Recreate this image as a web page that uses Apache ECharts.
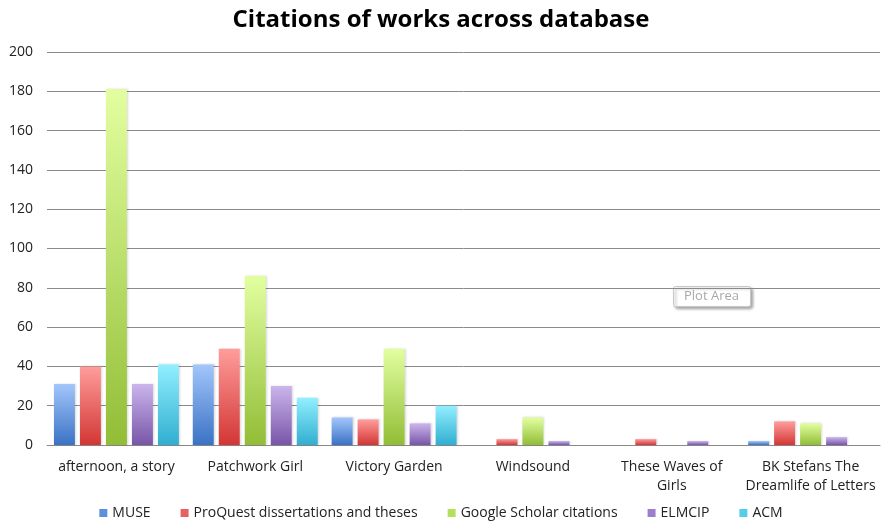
<!DOCTYPE html>
<html>
<head>
<meta charset="utf-8">
<script src="https://cdn.jsdelivr.net/npm/echarts@6/dist/echarts.min.js"></script>
<style>html,body{margin:0;padding:0;background:#fff}#c{width:882px;height:524px}</style>
</head>
<body>
<div id="c"></div>
<script>
var categories = ['afternoon, a story', 'Patchwork Girl', 'Victory Garden', 'Windsound', 'These Waves of\nGirls', 'BK Stefans The\nDreamlife of Letters'];
var muse = [31, 41, 14, 0, 0, 2];
var proquest = [40, 49, 13, 3, 3, 12];
var scholar = [181, 86, 49, 14, 0, 11];
var elmcip = [31, 30, 11, 2, 2, 4];
var acm = [41, 24, 20, 0, 0, 0];
var seriesNames = ['MUSE', 'ProQuest dissertations and theses', 'Google Scholar citations', 'ELMCIP', 'ACM'];
var yTicks = [0, 20, 40, 60, 80, 100, 120, 140, 160, 180, 200];

var FONT = '"Open Sans", sans-serif';
var colors = [
  ['#a3c6fb', '#3a72c4', '#5b8fdc'],
  ['#ff9d9b', '#d23634', '#e8605f'],
  ['#e2ffa0', '#92bd36', '#b5df5a'],
  ['#cbb5ec', '#7855a8', '#9c7fcb'],
  ['#92efff', '#30aed0', '#55cde6']
];
function grad(c) {
  return new echarts.graphic.LinearGradient(0, 0, 0, 1, [
    {offset: 0, color: c[0]}, {offset: 1, color: c[1]}
  ]);
}
var data = [muse, proquest, scholar, elmcip, acm];
var chart = echarts.init(document.getElementById('c'));
chart.setOption({
  animation: false,
  title: {
    text: 'Citations of works across database',
    left: 'center', top: 3,
    textStyle: {fontFamily: FONT, fontSize: 24, fontWeight: 'bold', color: '#000'}
  },
  legend: {
    top: 501, left: 'center',
    itemWidth: 8, itemHeight: 8, itemGap: 30,
    icon: 'rect',
    textStyle: {fontFamily: FONT, fontSize: 14, color: '#222'},
    data: seriesNames.map(function (n, i) { return {name: n, itemStyle: {color: colors[i][2]}}; })
  },
  grid: {left: 47, right: 2, top: 52, bottom: 79, containLabel: false},
  xAxis: {
    type: 'category', data: categories,
    axisTick: {show: false},
    axisLine: {lineStyle: {color: '#8a8a8a'}},
    axisLabel: {fontFamily: FONT, fontSize: 14, color: '#222', margin: 13, lineHeight: 19, interval: 0}
  },
  yAxis: {
    type: 'value', min: 0, max: 200, interval: 20,
    axisLabel: {fontFamily: FONT, fontSize: 14, color: '#222', margin: 14,
      formatter: function (v) { return yTicks.indexOf(v) >= 0 ? String(v) : ''; }},
    splitLine: {lineStyle: {color: '#8a8a8a', width: 1}},
    axisLine: {show: false}, axisTick: {show: false}
  },
  series: data.map(function (d, i) {
    return {
      name: seriesNames[i], type: 'bar', data: d,
      barGap: '24%', barCategoryGap: '10%',
      itemStyle: {color: grad(colors[i]), shadowColor: 'rgba(0,0,0,0.15)', shadowBlur: 2, shadowOffsetX: 1}
    };
  }),
  graphic: [{
    type: 'group', left: 673, top: 286,
    children: [
      {type: 'rect', shape: {x: 0, y: 0, width: 77, height: 20, r: 2},
       style: {fill: '#fff', stroke: '#c8c8c8', lineWidth: 1, shadowColor: 'rgba(0,0,0,0.35)', shadowBlur: 3, shadowOffsetX: 2, shadowOffsetY: 2}},
      {type: 'text', x: 38, y: 10, style: {text: 'Plot Area', fill: '#a8a8a8', font: '13px ' + FONT, align: 'center', verticalAlign: 'middle'}}
    ]
  }]
});
</script>
</body>
</html>
